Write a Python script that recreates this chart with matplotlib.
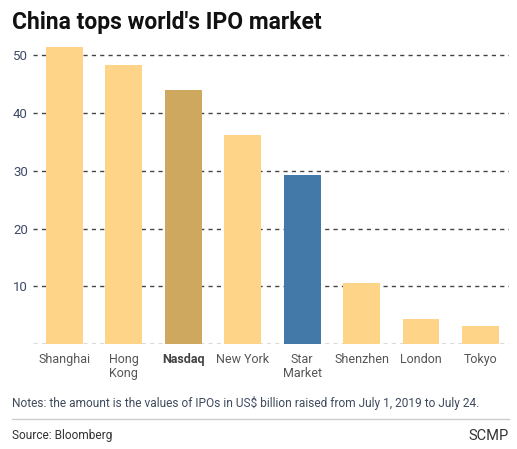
import matplotlib
matplotlib.use("Agg")
import matplotlib.pyplot as plt
from matplotlib.lines import Line2D

plt.rcParams['font.family'] = ['Roboto', 'DejaVu Sans']

categories = ["Shanghai", "Hong\nKong", "Nasdaq", "New York", "Star\nMarket", "Shenzhen", "London", "Tokyo"]
values = [51.5, 48.3, 44.0, 36.2, 29.3, 10.6, 4.3, 3.1]
colors = ["#FDD488", "#FDD488", "#CEA85E", "#FDD488", "#4279A8", "#FDD488", "#FDD488", "#FDD488"]
yticks = [0, 10, 20, 30, 40, 50]
ytick_labels = ["", "10", "20", "30", "40", "50"]

W, H = 517, 449
fig = plt.figure(figsize=(W / 100, H / 100), dpi=100)
fig.patch.set_facecolor("white")

ax_left, ax_right = 33, 509
ax_bottom, ax_top = 344, 43.75
ax = fig.add_axes([ax_left / W, 1 - ax_bottom / H, (ax_right - ax_left) / W, (ax_bottom - ax_top) / H])

x = list(range(len(categories)))
ax.bar(x, values, width=0.62, color=colors, zorder=2)
ax.set_xlim(-0.53, 7.48)
ax.set_ylim(0, 52)

for y in yticks:
    ax.axhline(y, color="#444444", linewidth=1.0, linestyle=(0, (3, 3)), zorder=1)

ax.set_yticks(yticks)
ax.set_yticklabels(ytick_labels, fontsize=9.5, color="#3E4A6A")
ax.tick_params(axis="y", length=0, pad=0)
for lbl in ax.get_yticklabels():
    lbl.set_horizontalalignment("left")
    lbl.set_x(-20 / (ax_right - ax_left))
ax.set_xticks(x)
ax.set_xticklabels(categories, fontsize=9, color="#555555", linespacing=1.05)
ax.tick_params(axis="x", length=0, pad=6.5)
for lbl, c in zip(ax.get_xticklabels(), categories):
    if c == "Nasdaq":
        lbl.set_fontweight("bold")
        lbl.set_color("#444444")

for s in ax.spines.values():
    s.set_visible(False)

fig.text(12 / W, 1 - 23 / H, "China tops world's IPO market", fontsize=16.5, fontweight="bold",
         color="#111111", ha="left", va="center")
fig.text(12 / W, 1 - 403 / H, "Notes: the amount is the values of IPOs in US$ billion raised from July 1, 2019 to July 24.",
         fontsize=8.6, color="#3F4B5C", ha="left", va="center")
fig.add_artist(Line2D([12 / W, 509 / W], [1 - 419 / H, 1 - 419 / H], color="#CCCCCC", linewidth=1.0))
fig.text(12 / W, 1 - 436 / H, "Source: Bloomberg", fontsize=8.6, color="#333333", ha="left", va="center")
fig.text(509 / W, 1 - 436 / H, "SCMP", fontsize=10.5, color="#333333", ha="right", va="center")

fig.savefig("out.png", dpi=100, facecolor="white")
